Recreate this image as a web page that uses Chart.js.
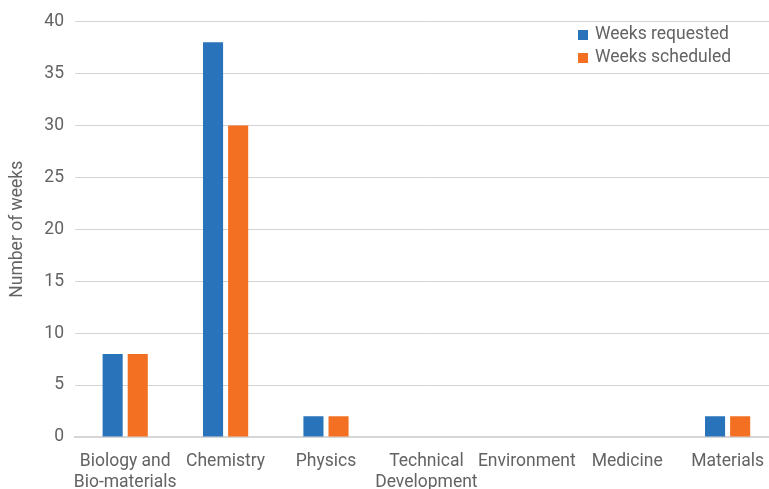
<!DOCTYPE html>
<html>
<head>
<meta charset="utf-8">
<script src="https://cdn.jsdelivr.net/npm/chart.js@4/dist/chart.umd.min.js"></script>
<style>
  html, body { margin: 0; padding: 0; background: #fff; overflow: hidden; }
  #wrap { width: 769px; height: 489px; overflow: hidden; }
</style>
</head>
<body>
<div id="wrap"><canvas id="myChart" width="778" height="489"></canvas></div>
<script>
// categories
var categories = [
    ['Biology and', 'Bio-materials'],
    'Chemistry',
    'Physics',
    ['Technical', 'Development'],
    'Environment',
    'Medicine',
    'Materials'
]
// series
var weeksRequested = [8, 38, 2, 0, 0, 0, 2]
var weeksScheduled = [8, 30, 2, 0, 0, 0, 2]
var seriesNames = ['Weeks requested', 'Weeks scheduled']
var yTicks = [0, 5, 10, 15, 20, 25, 30, 35, 40]

var textColor = '#636363'
var fontFamily = 'Roboto, "Liberation Sans", sans-serif'

//图例画在绘图区右上角
var cornerLegend = {
    id: 'cornerLegend',
    afterDraw(chart) {
        let c = chart.ctx
        c.save()
        c.font = '17.5px ' + fontFamily
        c.textBaseline = 'middle'
        chart.data.datasets.forEach((ds, i) => {
            let y = 35 + i * 23
            c.fillStyle = ds.backgroundColor
            c.fillRect(578, y - 5, 10, 10)
            c.fillStyle = textColor
            c.fillText(ds.label, 595, y)
        })
        c.restore()
    }
}

var ctx = document.getElementById('myChart').getContext('2d')
var myChart = new Chart(ctx, {
    type: 'bar',
    data: {
        labels: categories,
        datasets: [{
            label: seriesNames[0],
            data: weeksRequested,
            backgroundColor: '#2873BA',
            categoryPercentage: 0.5,
            barPercentage: 0.8
        }, {
            label: seriesNames[1],
            data: weeksScheduled,
            backgroundColor: '#F37022',
            categoryPercentage: 0.5,
            barPercentage: 0.8
        }]
    },
    options: {
        responsive: false,
        animation: false,
        layout: { padding: { top: 18, right: 0, left: 0, bottom: 0 } },
        plugins: {
            legend: { display: false },
            tooltip: { enabled: false }
        },
        scales: {
            x: {
                grid: { display: false, drawTicks: false },
                border: { display: true, color: '#d6d6d6', width: 2 },
                ticks: {
                    color: textColor,
                    font: { family: fontFamily, size: 17.5 },
                    padding: 14,
                    maxRotation: 0,
                    autoSkip: false
                },
                afterFit: s => { s.height = 52 }
            },
            y: {
                min: 0,
                max: 40,
                afterBuildTicks: s => { s.ticks = yTicks.map(v => ({ value: v })) },
                grid: { color: '#d3d3d3', drawTicks: false },
                border: { display: false },
                ticks: {
                    color: textColor,
                    font: { family: fontFamily, size: 17.5 },
                    padding: 11
                },
                title: {
                    display: true,
                    text: 'Number of weeks',
                    color: textColor,
                    font: { family: fontFamily, size: 17.5 },
                    padding: { top: 7, bottom: 0 }
                },
                afterFit: s => { s.width = 75 }
            }
        }
    },
    plugins: [cornerLegend]
})
</script>
</body>
</html>
